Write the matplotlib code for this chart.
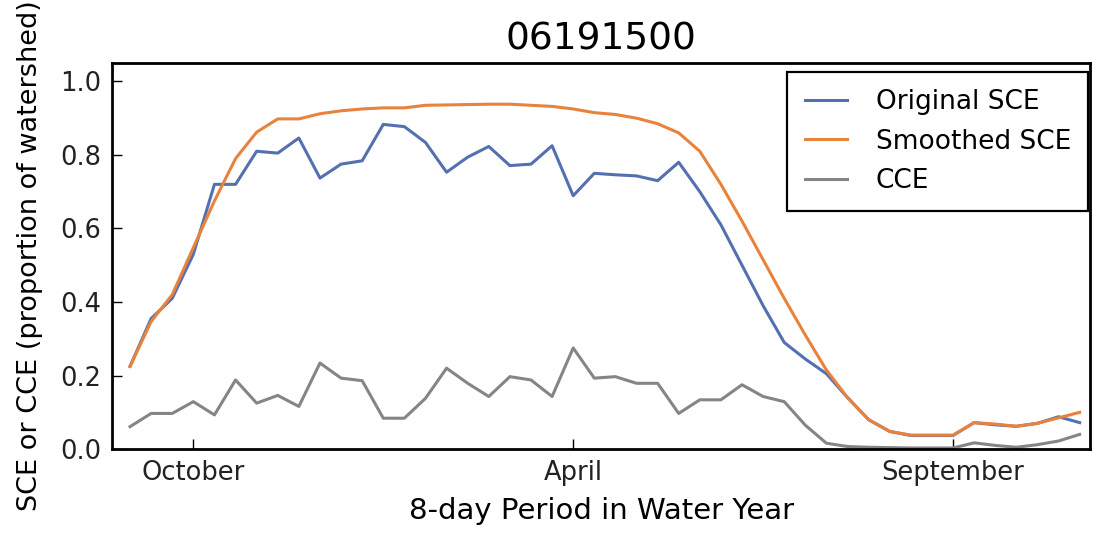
import numpy as np
import matplotlib
matplotlib.use('Agg')
import matplotlib.pyplot as plt

# 8-day periods in the water year
periods = np.arange(46)

original_sce = [0.225, 0.355, 0.41, 0.53, 0.72, 0.72, 0.81, 0.805, 0.846, 0.737,
                0.775, 0.784, 0.883, 0.877, 0.834, 0.753, 0.794, 0.823, 0.771, 0.775,
                0.825, 0.689, 0.75, 0.746, 0.743, 0.73, 0.78, 0.70, 0.61, 0.50,
                0.39, 0.29, 0.245, 0.205, 0.14, 0.08, 0.048, 0.037, 0.037, 0.037,
                0.072, 0.066, 0.062, 0.07, 0.088, 0.072]

smoothed_sce = [0.225, 0.347, 0.42, 0.548, 0.675, 0.79, 0.862, 0.898, 0.898, 0.912,
                0.92, 0.925, 0.928, 0.928, 0.935, 0.936, 0.937, 0.938, 0.938, 0.935,
                0.932, 0.925, 0.915, 0.91, 0.90, 0.885, 0.86, 0.81, 0.72, 0.62,
                0.515, 0.41, 0.31, 0.215, 0.14, 0.08, 0.048, 0.038, 0.038, 0.038,
                0.072, 0.068, 0.062, 0.07, 0.085, 0.10]

cce = [0.061, 0.097, 0.097, 0.129, 0.093, 0.188, 0.125, 0.146, 0.116, 0.234,
       0.193, 0.186, 0.084, 0.084, 0.138, 0.22, 0.179, 0.143, 0.197, 0.188,
       0.143, 0.275, 0.193, 0.197, 0.179, 0.179, 0.097, 0.134, 0.134, 0.175,
       0.143, 0.129, 0.065, 0.016, 0.007, 0.005, 0.004, 0.003, 0.003, 0.003,
       0.017, 0.01, 0.005, 0.012, 0.022, 0.04]

tick_pos = [3, 21, 39]
tick_labels = ['October', 'April', 'September']

fig = plt.figure(figsize=(10.99, 5.34), dpi=100)
ax = fig.add_axes([0.102, 0.159, 0.890, 0.723])

ax.plot(periods, original_sce, color='#5470b0', lw=2.2, label='Original SCE')
ax.plot(periods, smoothed_sce, color='#e8823c', lw=2.2, label='Smoothed SCE')
ax.plot(periods, cce, color='#858585', lw=2.2, label='CCE')

ax.set_xlim(-0.85, 45.5)
ax.set_ylim(0, 1.05)
ax.set_yticks(np.arange(0, 1.01, 0.2))
ax.set_xticks(tick_pos)
ax.set_xticklabels(tick_labels)
ax.tick_params(direction='in', length=7, width=1, labelsize=18.5, pad=8,
               labelcolor='#222222')

for s in ax.spines.values():
    s.set_linewidth(2)

ax.set_title('06191500', fontsize=27, pad=10)
ax.set_xlabel('8-day Period in Water Year', fontsize=21, labelpad=8)
ax.set_ylabel('SCE or CCE (proportion of watershed)', fontsize=19.5, labelpad=12)

leg = ax.legend(loc='upper right', bbox_to_anchor=(0.998, 0.976), borderaxespad=0,
                fontsize=19, fancybox=False, framealpha=1, edgecolor='black',
                handlelength=1.6, handletextpad=1.1, labelspacing=0.5,
                borderpad=0.65)
leg.get_frame().set_linewidth(1.6)

plt.savefig('out.png', dpi=100)
